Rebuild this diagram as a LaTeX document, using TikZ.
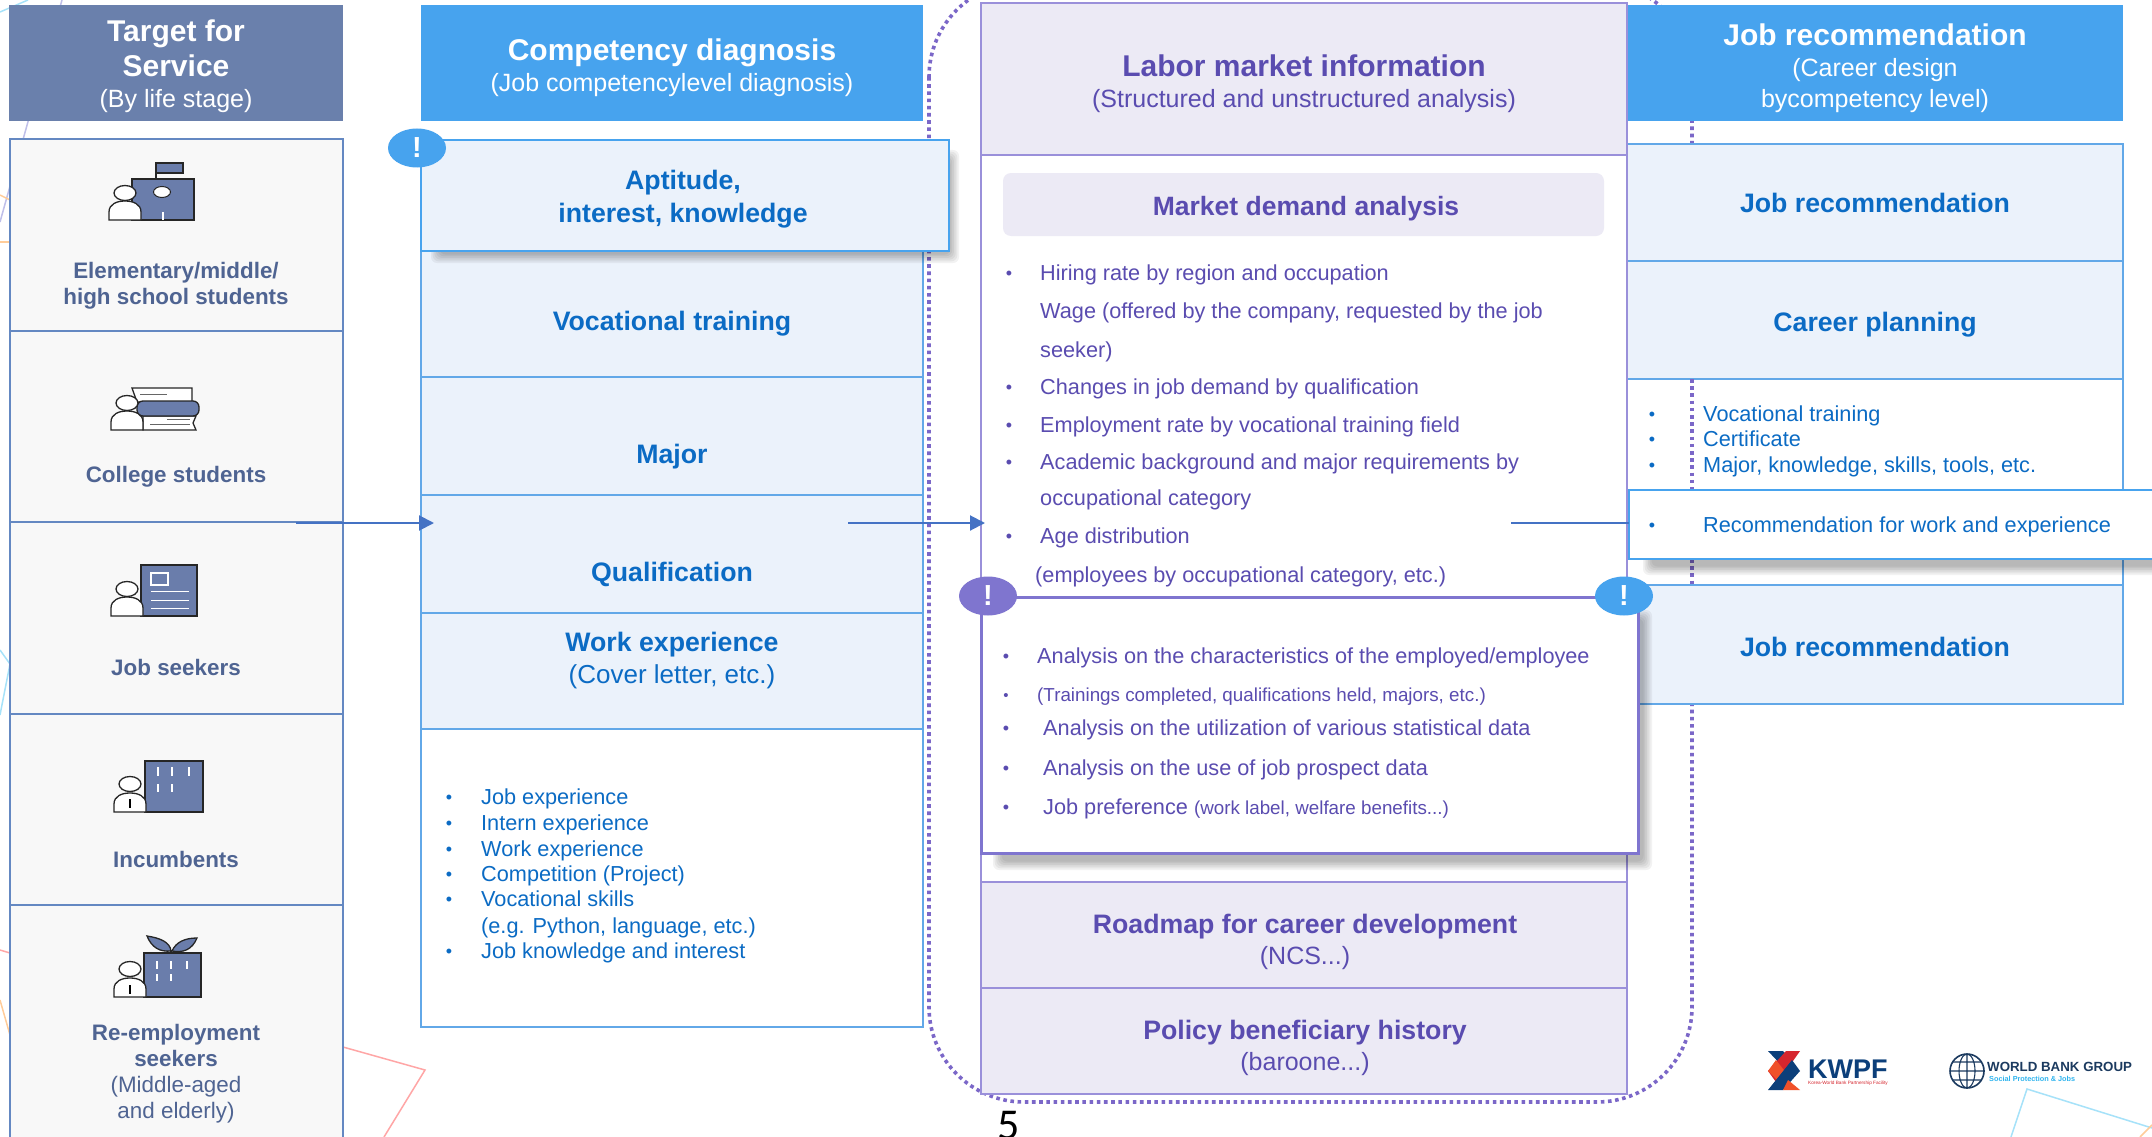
\documentclass[tikz,border=0pt]{standalone}
\usepackage{fontspec}
\usetikzlibrary{shapes.geometric,arrows.meta}
\setmainfont{Liberation Sans}
\newfontfamily\pagefont{Carlito}
\definecolor{hdrslate}{HTML}{6A80AC}
\definecolor{hdrblue}{HTML}{47A3EE}
\definecolor{leftfill}{HTML}{F8F8F8}
\definecolor{leftstroke}{HTML}{6488C2}
\definecolor{lefttext}{HTML}{4F6492}
\definecolor{bluetext}{HTML}{0B6BC4}
\definecolor{lightfill}{HTML}{EBF2FB}
\definecolor{boxstroke}{HTML}{62A8E8}
\definecolor{purptext}{HTML}{5A4CB0}
\definecolor{purpfill}{HTML}{ECEAF5}
\definecolor{purpstroke}{HTML}{9A90DA}
\definecolor{purpbadge}{HTML}{7F75CF}
\definecolor{dotcol}{HTML}{7B67C8}
\definecolor{arrowcol}{HTML}{4472C4}
\definecolor{iconblue}{HTML}{6A7DAB}
\definecolor{navy}{HTML}{1B3A5F}
\definecolor{wbcyan}{HTML}{2FB4EE}
\definecolor{kwnavy}{HTML}{0C3F7A}
\definecolor{kwred}{HTML}{D6262E}
\definecolor{kworange}{HTML}{F0512A}
\newcommand{\hb}{\fontsize{30}{35}\selectfont\bfseries}
\newcommand{\hr}{\fontsize{25}{31}\selectfont\mdseries}
\newcommand{\lb}{\fontsize{22.4}{26}\selectfont\bfseries}
\newcommand{\lr}{\fontsize{22.4}{26}\selectfont\mdseries}
\newcommand{\mb}{\fontsize{26.7}{33}\selectfont\bfseries}
\newcommand{\mr}{\fontsize{26}{32}\selectfont\mdseries}
\newcommand{\softshadow}[4]{\foreach \k in {0,...,5}{\fill[black,opacity=.05,rounded corners=6pt] (#1+\k*1.7,#2+\k*1.7) rectangle (#3-\k*1.7,#4-\k*1.7);}}
\newcommand{\personicon}[3]{%
  \filldraw[iconline,fill=white] (#1-16,#3) -- (#1-16,#3-8) .. controls (#1-16,#3-16) and (#1-8,#3-19) .. (#1,#3-19) .. controls (#1+8,#3-19) and (#1+16,#3-16) .. (#1+16,#3-8) -- (#1+16,#3) -- cycle;
  \filldraw[iconline,fill=white] (#1,#2) ellipse (11 and 7.5);}
\newcommand{\li}[6]{% name, colour, bullet x, text x, y, text
  \node[listtext,text=#2] (#1) at (#4,#5) {#6};
  \node[bulletmark,text=#2] (#1-b) at (#3,#5) {\textbullet};}
\begin{document}
\begin{tikzpicture}[x=1pt,y=-1pt,
  iconline/.style={draw=black!85,line width=1.3pt},
  iconwhite/.style={draw=white,line width=1.5pt},
  leftrow/.style={draw=leftstroke,fill=leftfill,line width=1.5pt},
  bluerow/.style={draw=boxstroke,fill=lightfill,line width=1.5pt},
  whiterow/.style={draw=boxstroke,fill=white,line width=1.5pt},
  purprow/.style={draw=purpstroke,fill=purpfill,line width=1.5pt},
  ltext/.style={text=lefttext,align=flush center,text width=320pt,inner sep=0pt,font=\lb},
  btext/.style={text=bluetext,font=\mb,anchor=mid,inner sep=0pt,yshift=-7pt},
  ptext/.style={text=purptext,anchor=mid,inner sep=0pt},
  htext/.style={text=white,align=flush center,text width=480pt,inner sep=0pt,font=\hb},
  listtext/.style={font=\fontsize{21.7}{26}\selectfont,anchor=mid west,inner sep=0pt,yshift=-5.5pt},
  bulletmark/.style={font=\fontsize{18}{22}\selectfont,anchor=mid,inner sep=0pt,yshift=-4.5pt},
  badge/.style={ellipse,minimum width=58pt,minimum height=39pt,inner sep=0pt,text=white,font=\fontsize{29}{30}\selectfont\bfseries},
  flowline/.style={draw=arrowcol,line width=2pt},
  flowarrow/.style={flowline,-{Triangle[length=15pt,width=15pt]}},
  faint/.style={line width=1.5pt}]
\path[use as bounding box,clip] (0,0) rectangle (2152,1137);
\fill[white] (0,0) rectangle (2152,1137);
% faint background polygons
\draw[faint,color=black!35!blue!25!white] (62,0) -- (0,222);
\draw[faint,color=cyan!35] (0,12) -- (28,0);
\draw[faint,color=orange!40] (0,195) -- (10,200);
\draw[faint,color=orange!40] (0,242) -- (10,242);
\draw[faint,color=cyan!35] (0,650) -- (10,664) -- (0,715);
\draw[faint,color=red!35] (0,950) -- (10,953);
\draw[faint,color=orange!40] (0,1000) -- (10,1035);
\draw[faint,color=red!35] (343,1047) -- (425,1070) -- (384,1137);
\draw[faint,color=cyan!35] (2011,1137) -- (2027,1089) -- (2152,1128);
\draw[faint,color=orange!40] (2140,1137) -- (2152,1125);
% dotted frame
\draw[dotcol,line width=3.6pt,dash pattern=on 3.6pt off 3.6pt,rounded corners=95pt] (929,-18) rectangle (1692,1102);
% headers
\fill[hdrslate] (9,5) rectangle (343,121);
\fill[hdrblue] (421,5) rectangle (923,121);
\fill[hdrblue] (1627,5) rectangle (2123,121);
\node[htext] (h1) at (176,66) {\hb Target for\\Service\par\hr (By life stage)\par};
\node[htext] (h2) at (672,68) {\hb Competency diagnosis\par\hr (Job competencylevel diagnosis)\par};
\node[htext] (h3) at (1875,68.5) {\hb Job recommendation\par\hr (Career design\\bycompetency level)\par};
% left column
\draw[leftrow] (10,139) rectangle (343,331);
\draw[leftrow] (10,331) rectangle (343,522);
\draw[leftrow] (10,522) rectangle (343,714);
\draw[leftrow] (10,714) rectangle (343,905);
\draw[leftrow] (10,905) rectangle (343,1150);
\node[ltext] (t1) at (176,286) {\lb Elementary/middle/\\high school students};
\node[ltext] (t2) at (176,477) {\lb College students};
\node[ltext] (t3) at (176,667) {\lb Job seekers};
\node[ltext] (t4) at (176,859) {\lb Incumbents};
\node[ltext] (t5) at (176,1074) {\lb Re-employment\\seekers\par\lr (Middle-aged\\and elderly)\par};
% icon 1 school
\filldraw[iconline,fill=iconblue] (156,163) rectangle (183,173);
\draw[iconline] (156,163) -- (156,179);
\filldraw[iconline,fill=iconblue] (132,179) rectangle (194,220);
\filldraw[iconline,fill=white,line width=1pt] (162,192) ellipse (8.5 and 5.5);
\draw[iconwhite] (163,212) -- (163,220);
\personicon{125}{193}{220}
% icon 2 books
\filldraw[iconline,fill=white] (132,388) -- (192,388) -- (192,402) -- (137,402) -- cycle;
\draw[black!60,line width=1pt] (140,394) -- (167,394);
\filldraw[iconline,fill=white] (143,416) -- (196,416) -- (193,423) -- (196,430) -- (143,430) -- cycle;
\draw[black!60,line width=1pt] (150,424) -- (190,424) (167,419) -- (190,419);
\filldraw[iconline,fill=iconblue,rounded corners=6pt] (137,401) rectangle (199,416);
\personicon{127}{403}{430}
% icon 3 CV
\filldraw[iconline,fill=iconblue] (141,565) rectangle (197,616);
\draw[iconwhite] (151,573) rectangle (168,585);
\draw[iconwhite,line width=1pt] (151,591) -- (189,591) (151,600) -- (189,600) (151,608) -- (189,608);
\personicon{127}{589}{616}
% icon 4 office
\filldraw[iconline,fill=iconblue] (145,761) rectangle (203,812);
\draw[iconwhite] (158,767) -- (158,776) (172,767) -- (172,776) (189,767) -- (189,776) (158,784) -- (158,792) (172,784) -- (172,792);
\personicon{130}{784}{812}
\draw[black,line width=1.5pt] (130,799) -- (130,808);
% icon 5 re-employment
\filldraw[iconline,fill=iconblue] (147,936) .. controls (160,938) and (170,942) .. (171,951) .. controls (160,952) and (152,948) .. cycle;
\filldraw[iconline,fill=iconblue] (197,938) .. controls (185,938) and (176,942) .. (172,951) .. controls (183,953) and (192,950) .. cycle;
\draw[iconline] (171,950) -- (171,954);
\filldraw[iconline,fill=iconblue] (144,953) rectangle (201,997);
\draw[iconwhite] (157,961) -- (157,969) (171,961) -- (171,969) (187,961) -- (187,969) (157,974) -- (157,981) (171,974) -- (171,981);
\personicon{130}{969}{997}
\draw[black,line width=1.5pt] (130,985) -- (130,994);
% column 2
\draw[bluerow] (421,251) rectangle (923,377);
\draw[bluerow] (421,377) rectangle (923,495);
\draw[bluerow] (421,495) rectangle (923,613);
\draw[bluerow] (421,613) rectangle (923,729);
\draw[whiterow] (421,729) rectangle (923,1027);
\softshadow{431}{150}{959}{263}
\draw[bluerow,draw=hdrblue,line width=2.5pt] (421,140) rectangle (949,251);
\node[btext,align=flush center,text width=500pt,anchor=center] (c1) at (683,192) {\mb Aptitude,\\interest, knowledge};
\node[btext] (c2) at (672,321) {Vocational training};
\node[btext] (c3) at (672,454) {Major};
\node[btext] (c4) at (672,572) {Qualification};
\node[btext,align=flush center,text width=480pt,anchor=center] (c5) at (672,653.5) {\mb Work experience\par\mr (Cover letter, etc.)\par};
\li{j1}{bluetext}{449}{481}{796}{Job experience}
\li{j2}{bluetext}{449}{481}{822}{Intern experience}
\li{j3}{bluetext}{449}{481}{848}{Work experience}
\li{j4}{bluetext}{449}{481}{873}{Competition (Project)}
\li{j5}{bluetext}{449}{481}{898}{Vocational skills}
\node[listtext,text=bluetext] (j5b) at (481,925) {(e.g. Python, language, etc.)};
\li{j6}{bluetext}{449}{481}{950}{Job knowledge and interest}
\node[badge,fill=hdrblue] (b1) at (417,148) {!};
% right column
\draw[bluerow] (1622,144) rectangle (2123,261);
\draw[bluerow] (1622,261) rectangle (2123,379);
\draw[whiterow] (1622,379) rectangle (2123,585);
\draw[bluerow] (1622,585) rectangle (2123,704);
\draw[dotcol,line width=3.6pt,dash pattern=on 3.6pt off 3.6pt] (1692,379) -- (1692,490) (1692,559) -- (1692,585);
\node[btext] (r1) at (1875,203) {Job recommendation};
\node[btext] (r2) at (1875,322) {Career planning};
\node[btext] (r3) at (1875,647) {Job recommendation};
\li{k1}{bluetext}{1652}{1703}{413}{Vocational training}
\li{k2}{bluetext}{1652}{1703}{438}{Certificate}
\li{k3}{bluetext}{1652}{1703}{464}{Major, knowledge, skills, tools, etc.}
% centre column
\draw[purprow,fill=white] (981,155) rectangle (1627,882);
\draw[purprow] (981,3) rectangle (1627,155);
\draw[purprow] (981,882) rectangle (1627,988);
\draw[purprow] (981,988) rectangle (1627,1094);
\node[ptext,align=flush center,text width=620pt,anchor=center,font=\hb] (m1) at (1304,84) {\hb Labor market information\par\hr (Structured and unstructured analysis)\par};
\fill[purpfill,rounded corners=8pt] (1003,173) rectangle (1604,236);
\node[ptext,font=\fontsize{26.5}{33}\selectfont\bfseries,yshift=-8pt] (m2) at (1306,205) {Market demand analysis};
\li{a1}{purptext}{1009}{1040}{272}{Hiring rate by region and occupation}
\node[listtext,text=purptext] (a2) at (1040,310) {Wage (offered by the company, requested by the job};
\node[listtext,text=purptext] (a2b) at (1040,349) {seeker)};
\li{a3}{purptext}{1009}{1040}{386}{Changes in job demand by qualification}
\li{a4}{purptext}{1009}{1040}{424}{Employment rate by vocational training field}
\li{a5}{purptext}{1009}{1040}{461}{Academic background and major requirements by}
\node[listtext,text=purptext] (a5b) at (1040,497) {occupational category};
\li{a6}{purptext}{1009}{1040}{535}{Age distribution}
\node[listtext,text=purptext] (a6b) at (1035,574) {(employees by occupational category, etc.)};
% recommendation box
\softshadow{1643}{505}{2170}{575}
\draw[whiterow,draw=hdrblue,line width=2.5pt] (1629,490) rectangle (2165,559);
\li{k4}{bluetext}{1652}{1703}{524}{Recommendation for work and experience}
% callout
\softshadow{993}{610}{1652}{870}
\draw[draw=purpbadge,fill=white,line width=3pt] (981,597) rectangle (1638,853);
\li{e1}{purptext}{1006}{1037}{655}{Analysis on the characteristics of the employed/employee}
\node[listtext,text=purptext,font=\fontsize{18.8}{22}\selectfont] (e2) at (1037,693) {(Trainings completed, qualifications held, majors, etc.)};
\node[bulletmark,text=purptext,font=\fontsize{15}{18}\selectfont] (e2-b) at (1006,693) {\textbullet};
\li{e3}{purptext}{1006}{1043}{727}{Analysis on the utilization of various statistical data}
\li{e4}{purptext}{1006}{1043}{767}{Analysis on the use of job prospect data}
\li{e5}{purptext}{1006}{1043}{806}{Job preference {\fontsize{18.8}{22}\selectfont(work label, welfare benefits...)}}
\node[badge,fill=purpbadge] (b2) at (988,596) {!};
\node[badge,fill=hdrblue] (b3) at (1624,596) {!};
% roadmap and policy text
\node[ptext,align=flush center,text width=620pt,anchor=center,font=\mb] (m3) at (1305,942) {\mb Roadmap for career development\par\hr (NCS...)\par};
\node[ptext,align=flush center,text width=620pt,anchor=center,font=\mb] (m4) at (1305,1048) {\mb Policy beneficiary history\par\hr (baroone...)\par};
% flow connectors
\coordinate (f1s) at (296,523);
\coordinate (f1e) at (434,523);
\coordinate (f2s) at (848,523);
\coordinate (f2e) at (985,523);
\coordinate (f3s) at (1511,523);
\coordinate (f3e) at (1629,523);
\draw[flowarrow] (f1s) -- (f1e);
\draw[flowarrow] (f2s) -- (f2e);
\draw[flowline] (f3s) -- (f3e);
% page number
\node[font=\pagefont\fontsize{44}{48}\selectfont,text=black,anchor=base,inner sep=0pt] (pg) at (1009,1139) {5};
% KWPF logo
\fill[kwnavy] (1768,1051) -- (1783,1051) -- (1791,1060) -- (1784,1068) -- cycle;
\fill[kwred] (1800,1051) -- (1786,1051) -- (1768,1071) -- (1776,1082) -- (1788,1068) -- cycle;
\fill[kworange] (1776,1060) -- (1768,1071) -- (1779,1082) -- (1787,1074) -- cycle;
\fill[kwnavy] (1800,1071) -- (1792,1060) -- (1768,1090) -- (1783,1090) -- cycle;
\fill[kworange] (1788,1080) -- (1783,1090) -- (1800,1090) -- cycle;
\node[anchor=base west,inner sep=0pt,text=kwnavy,font=\fontsize{27}{30}\selectfont\bfseries] (kw) at (1808,1078) {KWPF};
\node[anchor=base west,inner sep=0pt,text=kwred,font=\fontsize{4.7}{6}\selectfont] (kw2) at (1808,1084) {Korea-World Bank Partnership Facility};
% World Bank logo
\draw[navy,line width=1.6pt] (1967,1071) circle (17);
\draw[navy,line width=1.1pt] (1967,1071) ellipse (8 and 17) (1950,1071) -- (1984,1071) (1967,1054) -- (1967,1088) (1953,1062) -- (1981,1062) (1953,1080) -- (1981,1080);
\node[anchor=base west,inner sep=0pt,text=navy,font=\fontsize{13.3}{16}\selectfont\bfseries] (wb) at (1987,1071) {WORLD BANK GROUP};
\node[anchor=base west,inner sep=0pt,text=wbcyan,font=\fontsize{7.3}{9}\selectfont\bfseries] (wb2) at (1989,1081) {Social Protection \& Jobs};
\end{tikzpicture}
\end{document}
